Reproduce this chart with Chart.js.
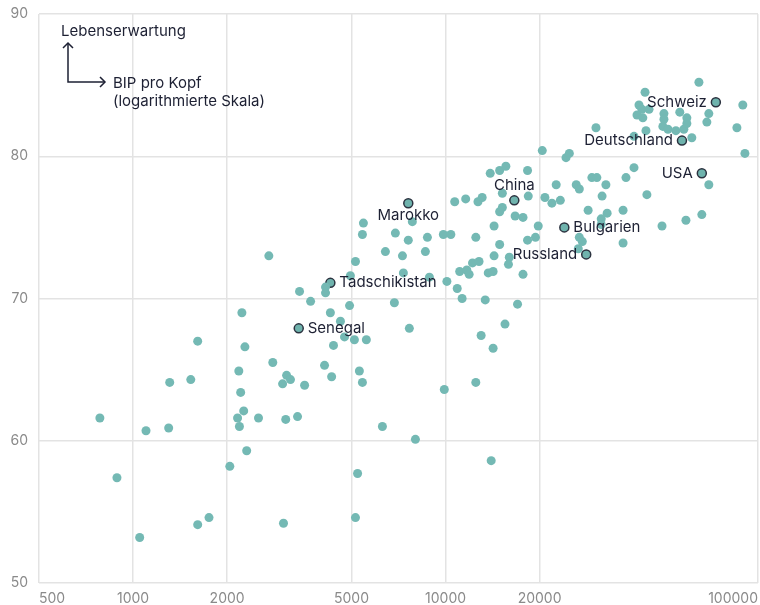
<!DOCTYPE html>
<html>
<head>
<meta charset="utf-8">
<script src="https://cdn.jsdelivr.net/npm/chart.js@4.4.0/dist/chart.umd.min.js"></script>
<style>
  html, body { margin: 0; padding: 0; background: #ffffff; }
  canvas { display: block; }
</style>
</head>
<body>
<canvas id="chart" width="760" height="605"></canvas>
<script>
// Tick values on both axes
const xTicks = [500, 1000, 2000, 5000, 10000, 20000, 100000];
const yTicks = [50, 60, 70, 80, 90];

// GDP per capita (USD, log scale) and life expectancy (years) per country
const gdpPerCapita = [
  783, 888, 1100, 1050, 1300, 1310, 1530, 1610, 1610, 1750,
  2040, 2180, 2210, 2260, 2160, 2190, 2280, 2310, 2520, 2800,
  3010, 3100, 3190, 3030, 3080, 3360, 3540, 4100, 4320, 4380,
  4750, 5110, 5580, 5300, 5420, 5230, 5150, 6280, 2720, 2230,
  3410, 3700, 4130, 4130, 4930, 4280, 4610, 5150, 4960, 5460,
  5420, 6910, 7600, 8750, 9840, 10400, 7830, 10700, 11600, 12700,
  13100, 12500, 6420, 7280, 8620, 12200, 12800, 7330, 8880, 11100,
  11700, 11900, 10100, 10900, 11300, 6860, 7660, 13400, 17000, 15500,
  13000, 14200, 9910, 12500, 8010, 14000, 13700, 14200, 17700, 14300,
  16000, 15900, 14900, 18300, 19400, 14300, 19800, 14900, 15200, 16700,
  17700, 15200, 18400, 20800, 21900, 23300, 22600, 26200, 26800, 29400,
  30500, 32600, 37800, 40100, 31700, 44100, 28600, 32900, 37000, 31500,
  31500, 26800, 27400, 26600, 37000, 49300, 58800, 66100, 69600, 13900,
  14900, 15600, 18300, 20400, 24300, 24900, 30300, 90800, 64700, 43500,
  89400, 41600, 42500, 44800, 41000, 42800, 50000, 50000, 56200, 59200,
  69600, 68600, 49600, 51500, 54600, 57900, 59200, 85600, 43800, 40100,
  61400
];
const lifeExpectancy = [
  61.6, 57.4, 60.7, 53.2, 60.9, 64.1, 64.3, 67.0, 54.1, 54.6,
  58.2, 64.9, 63.4, 62.1, 61.6, 61.0, 66.6, 59.3, 61.6, 65.5,
  64.0, 64.6, 64.3, 54.2, 61.5, 61.7, 63.9, 65.3, 64.5, 66.7,
  67.3, 67.1, 67.1, 64.9, 64.1, 57.7, 54.6, 61.0, 73.0, 69.0,
  70.5, 69.8, 70.8, 70.4, 69.5, 69.0, 68.4, 72.6, 71.6, 75.3,
  74.5, 74.6, 74.1, 74.3, 74.5, 74.5, 75.4, 76.8, 77.0, 76.8,
  77.1, 74.3, 73.3, 73.0, 73.3, 72.5, 72.6, 71.8, 71.5, 71.9,
  72.0, 71.7, 71.2, 70.7, 70.0, 69.7, 67.9, 69.9, 69.6, 68.2,
  67.4, 66.5, 63.6, 64.1, 60.1, 58.6, 71.8, 71.9, 71.7, 73.0,
  72.9, 72.4, 73.8, 74.1, 74.3, 75.1, 75.1, 76.1, 76.4, 75.8,
  75.7, 77.4, 77.2, 77.1, 76.7, 76.9, 78.0, 78.0, 77.7, 78.5,
  78.5, 78.0, 78.5, 79.2, 77.2, 77.3, 76.2, 76.0, 76.2, 75.6,
  75.2, 74.3, 74.0, 73.5, 73.9, 75.1, 75.5, 75.9, 78.0, 78.8,
  79.0, 79.3, 79.0, 80.4, 79.9, 80.2, 82.0, 80.2, 85.2, 84.5,
  83.6, 83.6, 83.3, 83.3, 82.9, 82.7, 83.0, 82.6, 83.1, 82.7,
  83.0, 82.4, 82.1, 81.9, 81.8, 81.9, 82.3, 82.0, 81.8, 81.4,
  81.3
];

// Countries that are named in the chart
const namedCountries = ['Schweiz', 'Deutschland', 'USA', 'China', 'Marokko', 'Bulgarien', 'Russland', 'Tadschikistan', 'Senegal'];
const namedGdp = [73300, 57100, 66100, 16600, 7600, 24000, 28200, 4280, 3390];
const namedLife = [83.8, 81.1, 78.8, 76.9, 76.7, 75.0, 73.1, 71.1, 67.9];

const INK = '#1d2033';
const FONT = 'Inter, "Noto Sans", sans-serif';

// Which side of its dot each country name sits on
const labelSide = {
  Schweiz: 'left', Deutschland: 'left', USA: 'left', Russland: 'left',
  China: 'above', Marokko: 'below',
  Bulgarien: 'right', Tadschikistan: 'right', Senegal: 'right'
};

const annotate = {
  id: 'annotate',
  afterDatasetsDraw(chart) {
    const { ctx, chartArea: a, scales: { x, y } } = chart;
    ctx.save();
    ctx.fillStyle = INK;
    ctx.strokeStyle = INK;
    ctx.font = '15px ' + FONT;
    ctx.textBaseline = 'middle';

    namedCountries.forEach((name, i) => {
      const px = x.getPixelForValue(namedGdp[i]);
      const py = y.getPixelForValue(namedLife[i]);
      const side = labelSide[name];
      if (side === 'left') {
        ctx.textAlign = 'right';
        ctx.fillText(name, px - 9, py);
      } else if (side === 'right') {
        ctx.textAlign = 'left';
        ctx.fillText(name, px + 9, py);
      } else if (side === 'above') {
        ctx.textAlign = 'center';
        ctx.fillText(name, px, py - 15);
      } else {
        ctx.textAlign = 'center';
        ctx.fillText(name, px, py + 12);
      }
    });

    // Axis hint in the upper left corner
    ctx.textAlign = 'left';
    ctx.fillText('Lebenserwartung', a.left + 22, a.top + 17);
    ctx.fillText('BIP pro Kopf', a.left + 74, a.top + 69);
    ctx.fillText('(logarithmierte Skala)', a.left + 74, a.top + 87);

    const ox = a.left + 29, oy = a.top + 68;
    ctx.lineWidth = 1.5;
    ctx.beginPath();
    ctx.moveTo(ox, a.top + 29);
    ctx.lineTo(ox, oy);
    ctx.lineTo(ox + 37, oy);
    ctx.stroke();
    ctx.beginPath();
    ctx.moveTo(ox - 5, a.top + 34);
    ctx.lineTo(ox, a.top + 29);
    ctx.lineTo(ox + 5, a.top + 34);
    ctx.stroke();
    ctx.beginPath();
    ctx.moveTo(ox + 32, oy - 5);
    ctx.lineTo(ox + 37, oy);
    ctx.lineTo(ox + 32, oy + 5);
    ctx.stroke();
    ctx.restore();
  }
};

const others = gdpPerCapita.map((g, i) => ({ x: g, y: lifeExpectancy[i] }));
const named = namedGdp.map((g, i) => ({ x: g, y: namedLife[i] }));

const tickFont = { family: FONT, size: 14 };

new Chart(document.getElementById('chart'), {
  type: 'scatter',
  data: {
    datasets: [
      { data: others, backgroundColor: '#74b9b4', borderWidth: 0, pointRadius: 4.5, pointHoverRadius: 4.5 },
      { data: named, backgroundColor: '#6fb3ad', borderColor: '#2c3340', borderWidth: 1.5, pointRadius: 4.5, pointHoverRadius: 4.5 }
    ]
  },
  options: {
    responsive: false,
    animation: false,
    devicePixelRatio: 1,
    layout: { autoPadding: false, padding: { top: 14, right: 2, bottom: 0, left: 0 } },
    plugins: { legend: { display: false }, tooltip: { enabled: false } },
    scales: {
      x: {
        type: 'logarithmic',
        min: 500,
        max: 100000,
        afterBuildTicks: s => { s.ticks = xTicks.map(v => ({ value: v })); },
        afterFit: s => { s.height = 22; },
        ticks: {
          align: 'inner', autoSkip: false, maxRotation: 0, padding: 0,
          color: '#8a8a8a', font: tickFont,
          callback: v => String(v)
        },
        grid: { color: '#e3e3e3', lineWidth: 1.5, drawTicks: true, tickLength: 7, tickColor: 'rgba(0,0,0,0)' },
        border: { display: false }
      },
      y: {
        min: 50,
        max: 90,
        afterBuildTicks: s => { s.ticks = yTicks.map(v => ({ value: v })); },
        afterFit: s => { s.width = 39; },
        ticks: { padding: 0, color: '#8a8a8a', font: tickFont },
        grid: { color: '#e3e3e3', lineWidth: 1.5, drawTicks: true, tickLength: 11, tickColor: 'rgba(0,0,0,0)' },
        border: { display: false }
      }
    }
  },
  plugins: [annotate]
});
</script>
</body>
</html>
